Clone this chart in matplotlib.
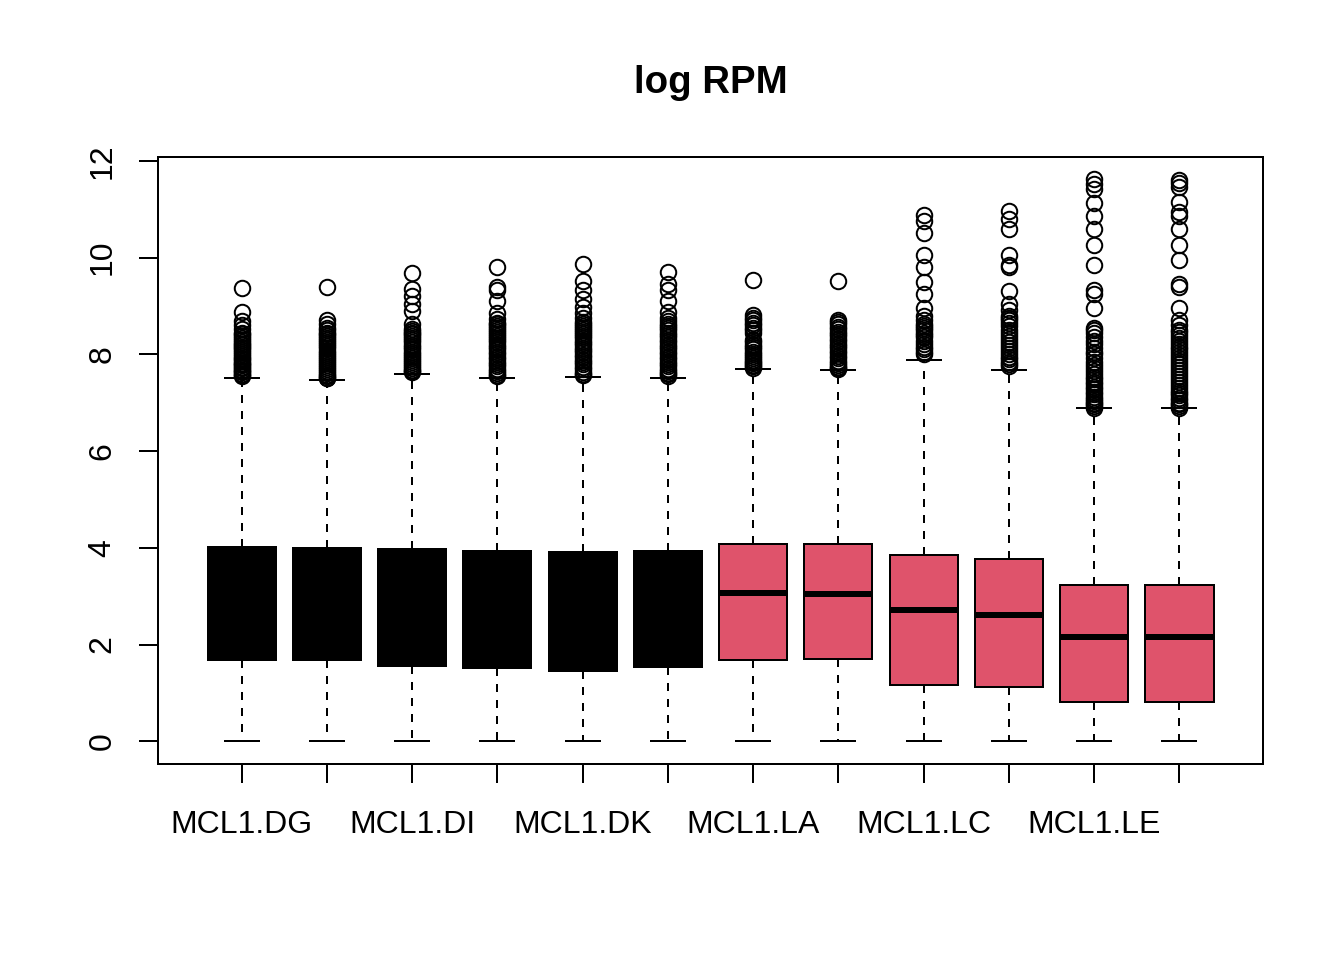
import matplotlib.pyplot as plt

# sample names (R drew only every other label)
samples = ["MCL1.DG", "MCL1.DH", "MCL1.DI", "MCL1.DJ", "MCL1.DK", "MCL1.DL",
           "MCL1.LA", "MCL1.LB", "MCL1.LC", "MCL1.LD", "MCL1.LE", "MCL1.LF"]
groups = ["D"] * 6 + ["L"] * 6

# box statistics
q1 = [1.68, 1.68, 1.55, 1.51, 1.45, 1.53, 1.68, 1.70, 1.16, 1.12, 0.81, 0.81]
medians = [2.90, 2.90, 2.85, 2.80, 2.75, 2.80, 3.07, 3.05, 2.72, 2.61, 2.16, 2.16]
q3 = [4.02, 4.00, 3.98, 3.94, 3.92, 3.94, 4.08, 4.08, 3.85, 3.77, 3.23, 3.23]
whis_lo = [0.0] * 12
whis_hi = [7.52, 7.46, 7.59, 7.52, 7.54, 7.52, 7.69, 7.67, 7.88, 7.67, 6.88, 6.88]

fliers = [
    [9.37, 8.87, 8.68, 8.60, 8.52, 8.45, 8.38, 8.30, 8.22, 8.15, 8.08, 8.00,
     7.93, 7.86, 7.80, 7.74, 7.68, 7.63, 7.58, 7.55, 7.60, 7.66, 7.71, 7.77,
     7.83, 7.90, 7.97, 8.04, 8.12, 8.19, 8.26, 8.34, 8.41],
    [9.40, 8.70, 8.62, 8.55, 8.45, 8.38, 8.30, 8.22, 8.12, 8.02, 7.94, 7.86,
     7.78, 7.70, 7.62, 7.55, 7.50, 7.52, 7.58, 7.65, 7.74, 7.82, 7.90, 7.98,
     8.07, 8.17, 8.26, 8.34, 8.42, 8.50],
    [9.68, 9.35, 9.20, 9.05, 8.90, 8.62, 8.52, 8.45, 8.38, 8.30, 8.20, 8.10,
     8.00, 7.92, 7.84, 7.76, 7.68, 7.63, 7.65, 7.72, 7.80, 7.88, 7.96, 8.05,
     8.15, 8.25, 8.34, 8.42, 8.48],
    [9.80, 9.40, 9.33, 9.10, 8.85, 8.72, 8.65, 8.58, 8.50, 8.42, 8.34, 8.25,
     8.15, 8.05, 7.95, 7.85, 7.75, 7.66, 7.58, 7.55, 7.62, 7.70, 7.80, 7.90,
     8.00, 8.10, 8.20, 8.30, 8.38, 8.46, 8.54, 8.62],
    [9.87, 9.52, 9.33, 9.15, 8.98, 8.85, 8.75, 8.66, 8.58, 8.50, 8.42, 8.33,
     8.24, 8.14, 8.04, 7.94, 7.84, 7.74, 7.64, 7.58, 7.60, 7.69, 7.79, 7.89,
     7.99, 8.09, 8.19, 8.28, 8.37, 8.46, 8.54, 8.62],
    [9.70, 9.45, 9.32, 9.10, 8.88, 8.75, 8.68, 8.58, 8.50, 8.40, 8.30, 8.20,
     8.10, 8.00, 7.90, 7.80, 7.70, 7.62, 7.56, 7.59, 7.66, 7.75, 7.85, 7.95,
     8.05, 8.15, 8.25, 8.35, 8.45, 8.54, 8.63],
    [9.53, 8.82, 8.75, 8.65, 8.55, 8.45, 8.30, 8.20, 8.10, 8.00, 7.92, 7.85,
     7.78, 7.72, 8.70, 8.60, 8.50, 8.25, 8.15, 8.05, 7.96, 7.88, 7.81, 7.75],
    [9.51, 8.70, 8.62, 8.52, 8.42, 8.32, 8.22, 8.12, 8.02, 7.92, 7.82, 7.74,
     7.70, 7.72, 7.78, 7.87, 7.97, 8.07, 8.17, 8.27, 8.37, 8.47, 8.57, 8.66],
    [10.88, 10.75, 10.50, 10.05, 9.80, 9.50, 9.25, 8.95, 8.80, 8.70, 8.62,
     8.55, 8.45, 8.35, 8.22, 8.10, 8.00, 8.05, 8.16, 8.28, 8.40, 8.50, 8.58],
    [10.96, 10.80, 10.60, 10.05, 9.85, 9.80, 9.30, 9.05, 8.92, 8.80, 8.70,
     8.58, 8.45, 8.32, 8.20, 8.06, 7.95, 7.85, 7.75, 7.80, 7.90, 8.00, 8.12,
     8.26, 8.38, 8.50, 8.64, 8.75],
    [11.62, 11.52, 11.42, 11.12, 10.85, 10.60, 10.25, 9.85, 9.32, 9.25, 8.95,
     8.55, 8.45, 8.35, 8.22, 8.12, 8.00, 7.85, 7.72, 7.60, 7.48, 7.38, 7.28,
     7.18, 7.08, 7.00, 6.94, 6.90, 6.97, 7.04, 7.12, 7.22, 7.33, 7.43, 7.54,
     7.66, 7.78, 7.92, 8.05, 8.28, 8.50],
    [11.60, 11.55, 11.45, 11.15, 10.95, 10.85, 10.60, 10.25, 9.95, 9.45, 9.40,
     8.95, 8.70, 8.60, 8.50, 8.40, 8.28, 8.15, 8.05, 7.92, 7.80, 7.68, 7.55,
     7.42, 7.30, 7.20, 7.10, 7.00, 6.94, 6.90, 6.97, 7.05, 7.15, 7.25, 7.36,
     7.48, 7.61, 7.74, 7.86, 7.98, 8.10, 8.22, 8.34, 8.46],
]

group_colors = {"D": "black", "L": "#DF536B"}

stats = []
for i, name in enumerate(samples):
    stats.append({"label": name, "q1": q1[i], "med": medians[i], "q3": q3[i],
                  "whislo": whis_lo[i], "whishi": whis_hi[i],
                  "fliers": fliers[i]})

plt.rcParams["font.family"] = ["Liberation Sans", "DejaVu Sans"]
fig = plt.figure(figsize=(7, 5), dpi=192)
ax = fig.add_axes([0.1176, 0.2042, 0.8221, 0.6323])

positions = list(range(1, len(samples) + 1))
bp = ax.bxp(stats, positions=positions, widths=0.8, patch_artist=True,
            showfliers=True,
            boxprops=dict(linewidth=0.75, edgecolor="black"),
            medianprops=dict(color="black", linewidth=2.25, solid_capstyle="butt"),
            whiskerprops=dict(color="black", linewidth=0.75, linestyle=(0, (4, 4))),
            capprops=dict(color="black", linewidth=0.75),
            capwidths=0.4,
            flierprops=dict(marker="o", markerfacecolor="none",
                            markeredgecolor="black", markersize=5.8,
                            markeredgewidth=0.75, linestyle="none"))
for patch, g in zip(bp["boxes"], groups):
    patch.set_facecolor(group_colors[g])

ax.set_xlim(0.02, 12.98)
ax.set_ylim(-0.47, 12.08)
ax.set_xticks(positions)
ax.set_xticklabels([s if i % 2 == 0 else "" for i, s in enumerate(samples)])
ax.set_yticks([0, 2, 4, 6, 8, 10, 12])
ax.set_yticklabels(["0", "2", "4", "6", "8", "10", "12"], rotation=90, va="center")
ax.tick_params(axis="both", direction="out", length=7.2, width=0.75,
               labelsize=12, color="black")
ax.tick_params(axis="x", pad=10)
ax.tick_params(axis="y", pad=8)
for sp in ax.spines.values():
    sp.set_linewidth(0.75)

ax.set_title("log RPM", fontsize=14.4, fontweight="bold", pad=24)

fig.savefig("out.png", dpi=192)
